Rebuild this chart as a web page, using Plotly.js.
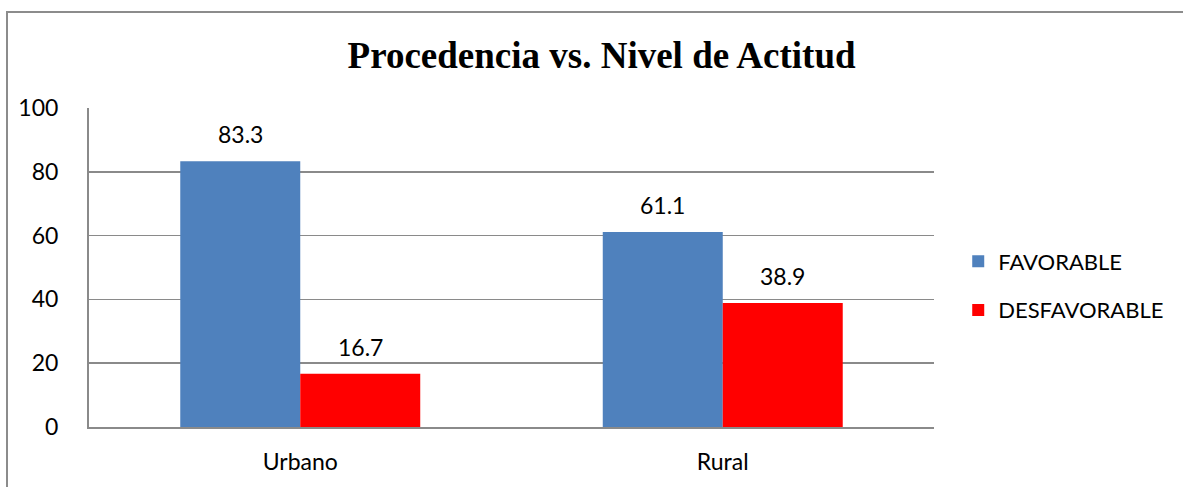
<!DOCTYPE html>
<html>
<head>
<meta charset="utf-8">
<script src="https://cdn.plot.ly/plotly-3.0.1.min.js"></script>
<style>
  body { margin: 0; background: #fff; }
  #chart { width: 1183px; height: 487px; }
  #frame { position: absolute; left: 6px; top: 11px; width: 2000px; height: 2000px;
           border-left: 2px solid #8c8c8c; border-top: 2px solid #8c8c8c; pointer-events: none; }
</style>
</head>
<body>
<div id="chart"></div>
<div id="frame"></div>
<script>
const categorias = ['Urbano', 'Rural'];
const favorable = [83.3, 61.1];
const desfavorable = [16.7, 38.9];
const yTicks = [0, 20, 40, 60, 80, 100];

function etiquetas(valores, desplazamiento) {
	return valores.map((v, i) => ({
		x: categorias[i],
		y: v,
		text: v.toFixed(1),
		xref: 'x',
		yref: 'y',
		xshift: desplazamiento,
		yshift: 11,
		yanchor: 'bottom',
		showarrow: false,
		font: { family: 'Lato', size: 23, color: '#000' }
	}));
}

function graficar() {
	const data = [{
		x: categorias,
		y: favorable,
		name: 'FAVORABLE',
		type: 'bar',
		legendgroup: 'a',
		marker: { color: '#4f81bd' }
	}, {
		x: categorias,
		y: desfavorable,
		name: 'DESFAVORABLE',
		type: 'bar',
		legendgroup: 'b',
		marker: { color: '#ff0000' }
	}];
	const layout = {
		width: 1183,
		height: 487,
		margin: { l: 89, r: 249, t: 108, b: 60, autoexpand: false },
		paper_bgcolor: '#fff',
		plot_bgcolor: '#fff',
		font: { family: 'Lato', size: 23, color: '#000' },
		title: {
			text: '<b>Procedencia vs. Nivel de Actitud</b>',
			font: { family: 'Liberation Serif', size: 37, color: '#000' },
			x: 0.5085,
			xref: 'container',
			y: 0.887,
			yref: 'container',
			xanchor: 'center',
			yanchor: 'middle'
		},
		barmode: 'group',
		bargap: 0.432,
		bargroupgap: 0,
		showlegend: true,
		legend: {
			x: 0.81,
			xref: 'container',
			xanchor: 'left',
			y: 0.442,
			yanchor: 'middle',
			tracegroupgap: 17,
			font: { family: 'Lato', size: 22, color: '#000' }
		},
		xaxis: {
			showline: true,
			linecolor: '#8a8a8a',
			linewidth: 2,
			ticks: '',
			ticklabelstandoff: 13,
			fixedrange: true
		},
		yaxis: {
			range: [0, 100],
			tickvals: yTicks,
			showline: true,
			linecolor: '#8a8a8a',
			linewidth: 2,
			showgrid: true,
			gridcolor: '#8a8a8a',
			gridwidth: 1.5,
			zeroline: false,
			ticks: '',
			ticklabelstandoff: 24,
			fixedrange: true
		},
		annotations: etiquetas(favorable, -60).concat(etiquetas(desfavorable, 60))
	};
	Plotly.newPlot('chart', data, layout, { staticPlot: true });
}
graficar();
</script>
</body>
</html>
